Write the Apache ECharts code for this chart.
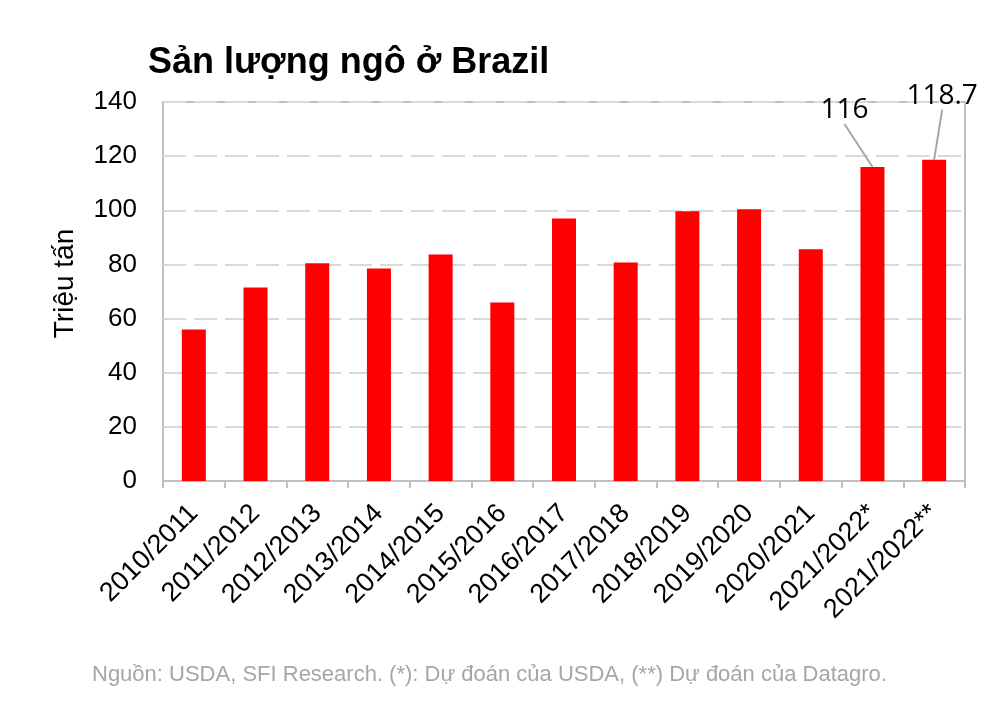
<!DOCTYPE html>
<html>
<head>
<meta charset="utf-8">
<script src="https://cdn.jsdelivr.net/npm/echarts@6/dist/echarts.min.js"></script>
<style>
  html, body { margin: 0; padding: 0; background: #fff; }
  #chart { width: 1000px; height: 709px; }
</style>
</head>
<body>
<div id="chart"></div>
<script>
// dữ liệu
const categories = ['2010/2011', '2011/2012', '2012/2013', '2013/2014', '2014/2015', '2015/2016',
  '2016/2017', '2017/2018', '2018/2019', '2019/2020', '2020/2021', '2021/2022*', '2021/2022**'];
const production = [56, 71.5, 80.4, 78.5, 83.7, 65.9, 97, 80.7, 99.6, 100.4, 85.6, 116, 118.7];
const labelledIndex = [11, 12];
const yTicks = [0, 20, 40, 60, 80, 100, 120, 140];

const chart = echarts.init(document.getElementById('chart'));

const font = '"Liberation Sans", Arial, sans-serif';

// điểm chú thích ở đỉnh cột (chỉ để gắn nhãn + đường dẫn)
const calloutData = labelledIndex.map(i => [i, production[i]]);

const option = {
  backgroundColor: '#fff',
  animation: false,
  title: {
    text: 'Sản lượng ngô ở Brazil',
    left: 143,
    top: 40,
    textStyle: { fontFamily: font, fontSize: 36, fontWeight: 'bold', color: '#000' }
  },
  graphic: [
    {
      type: 'text',
      left: 92,
      top: 664,
      style: {
        text: 'Nguồn: USDA, SFI Research. (*): Dự đoán của USDA, (**) Dự đoán của Datagro.',
        font: '22px ' + font,
        fill: '#a6a6a6'
      }
    }
  ],
  grid: {
    left: 163,
    right: 35,
    top: 102,
    bottom: 228,
    show: true,
    borderColor: '#bfbfbf',
    borderWidth: 2
  },
  xAxis: {
    type: 'category',
    data: categories,
    axisLine: { show: true, lineStyle: { color: '#bfbfbf', width: 2 } },
    axisTick: { show: true, length: 7, lineStyle: { color: '#bfbfbf', width: 2 } },
    axisLabel: {
      rotate: 45,
      interval: 0,
      margin: 28,
      fontFamily: font,
      fontSize: 27,
      color: '#000'
    }
  },
  yAxis: {
    type: 'value',
    min: yTicks[0],
    max: yTicks[yTicks.length - 1],
    interval: 20,
    name: 'Triệu tấn',
    nameLocation: 'middle',
    nameGap: 84,
    nameTextStyle: { fontFamily: font, fontSize: 28, color: '#000', padding: [0, 0, 0, 16] },
    axisLine: { show: false },
    axisTick: { show: false },
    axisLabel: { margin: 26, fontFamily: font, fontSize: 26, color: '#000' },
    splitLine: {
      show: true,
      lineStyle: { color: '#d9d9d9', width: 2, type: [23, 8] }
    }
  },
  series: [
    {
      type: 'bar',
      barWidth: 24,
      itemStyle: { color: '#ff0000' },
      data: production
    },
    {
      type: 'scatter',
      symbolSize: 1,
      itemStyle: { color: '#ff0000', opacity: 1 },
      silent: true,
      z: 5,
      data: calloutData,
      label: {
        show: true,
        position: 'inside',
        formatter: p => String(p.value[1]),
        fontFamily: '"Open Sans", "Noto Sans", sans-serif',
        fontSize: 28,
        color: '#000',
        opacity: 1,
        textBorderWidth: 0
      },
      labelLine: { show: true, lineStyle: { color: '#a6a6a6', width: 2 } },
      labelLayout: function (p) {
        if (p.dataIndex === 0) return { dx: -28, dy: -57 };
        return { dx: 8, dy: -64 };
      }
    }
  ]
};

chart.setOption(option);
</script>
</body>
</html>
